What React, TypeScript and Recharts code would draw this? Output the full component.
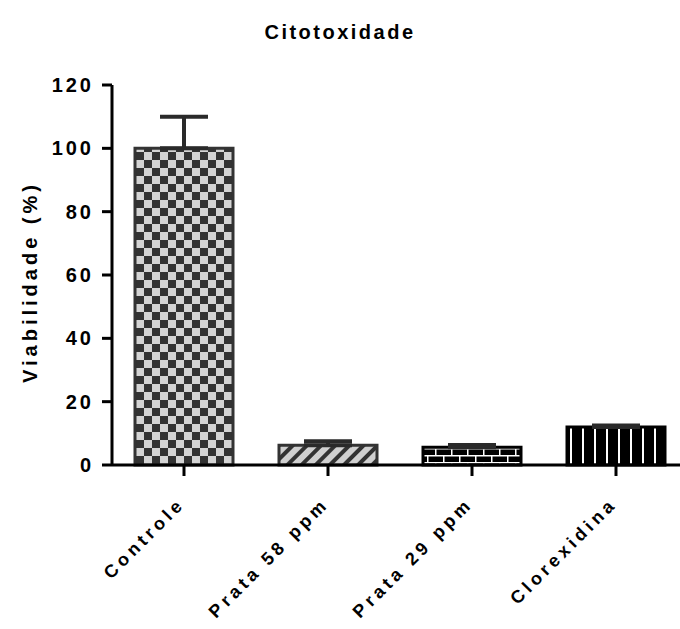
import { BarChart, Bar, XAxis, YAxis, Cell, ErrorBar } from 'recharts';

const categories = ['Controle', 'Prata 58 ppm', 'Prata 29 ppm', 'Clorexidina'];
const means = [100, 6.2, 5.6, 12];
const errors = [10, 1.3, 0.7, 0.5];
const yTicks = [0, 20, 40, 60, 80, 100, 120];

const FILLS = ['url(#checker)', 'url(#hatch)', 'url(#brick)', 'url(#vlines)'];
const STROKES = ['#333', '#333', '#000', '#000'];

const data = categories.map((name, i) => ({
  name,
  value: means[i],
  err: [0, errors[i]],
}));

const FONT = '"Liberation Sans", Arial, sans-serif';

const XTick = ({ x, y, payload }: any) => (
  <g transform={`translate(${x + 2},${y + 27}) rotate(-45)`}>
    <text
      x={0}
      y={0}
      textAnchor="end"
      fontFamily={FONT}
      fontWeight="bold"
      fontSize={18}
      letterSpacing={4}
      fill="#000"
    >
      {payload.value}
    </text>
  </g>
);

const YTick = ({ x, y, payload }: any) => (
  <text
    x={x - 6}
    y={y}
    dy={7}
    textAnchor="end"
    fontFamily={FONT}
    fontWeight="bold"
    fontSize={20}
    letterSpacing={3}
    fill="#000"
  >
    {payload.value}
  </text>
);

const App = () => {
  return (
    <div style={{ position: 'relative', width: 680, height: 629, overflow: 'hidden' }}>
      <style>{'body{margin:0}'}</style>
      <BarChart
        width={680}
        height={629}
        data={data}
        margin={{ top: 85, right: -8, bottom: 134, left: 0 }}
        barCategoryGap={0}
      >
        <defs>
          <pattern id="checker" patternUnits="userSpaceOnUse" width={16} height={16}>
            <rect width={16} height={16} fill="#d4d4d4" />
            <rect width={8} height={8} fill="#333" />
            <rect x={8} y={8} width={8} height={8} fill="#333" />
          </pattern>
          <pattern
            id="hatch"
            patternUnits="userSpaceOnUse"
            width={10}
            height={10}
            patternTransform="rotate(45)"
          >
            <rect width={10} height={10} fill="#d0d0d0" />
            <rect width={4} height={10} fill="#333" />
          </pattern>
          <pattern id="brick" patternUnits="userSpaceOnUse" width={16} height={14}>
            <rect width={16} height={14} fill="#000" />
            <rect y={0} width={16} height={1.5} fill="#fff" />
            <rect y={7} width={16} height={1.5} fill="#fff" />
            <rect x={3} y={0} width={1.5} height={7} fill="#fff" />
            <rect x={11} y={7} width={1.5} height={7} fill="#fff" />
          </pattern>
          <pattern id="vlines" patternUnits="userSpaceOnUse" width={12} height={12}>
            <rect width={12} height={12} fill="#000" />
            <rect x={6} width={2} height={12} fill="#fff" />
          </pattern>
        </defs>
        <text
          x={340}
          y={39}
          textAnchor="middle"
          fontFamily={FONT}
          fontWeight="bold"
          fontSize={20}
          letterSpacing={2.5}
          fill="#000"
        >
          Citotoxidade
        </text>
        <text
          x={0}
          y={0}
          transform="translate(37,282) rotate(-90)"
          textAnchor="middle"
          fontFamily={FONT}
          fontWeight="bold"
          fontSize={20}
          letterSpacing={4}
          fill="#000"
        >
          Viabilidade (%)
        </text>
        <XAxis
          dataKey="name"
          interval={0}
          tick={<XTick />}
          tickSize={11}
          tickLine={{ stroke: '#000', strokeWidth: 3 }}
          axisLine={{ stroke: '#000', strokeWidth: 3 }}
        />
        <YAxis
          width={112}
          domain={[0, 120]}
          ticks={yTicks}
          tick={<YTick />}
          tickSize={10}
          tickLine={{ stroke: '#000', strokeWidth: 3 }}
          axisLine={{ stroke: '#000', strokeWidth: 3 }}
        />
        <Bar dataKey="value" barSize={98} strokeWidth={3} isAnimationActive={false}>
          {data.map((_, i) => (
            <Cell key={`cell-${i}`} fill={FILLS[i]} stroke={STROKES[i]} />
          ))}
          <ErrorBar
            dataKey="err"
            width={24}
            stroke="#2a2a2a"
            strokeWidth={4}
            direction="y"
            isAnimationActive={false}
          />
        </Bar>
      </BarChart>
    </div>
  );
};

export default App;
